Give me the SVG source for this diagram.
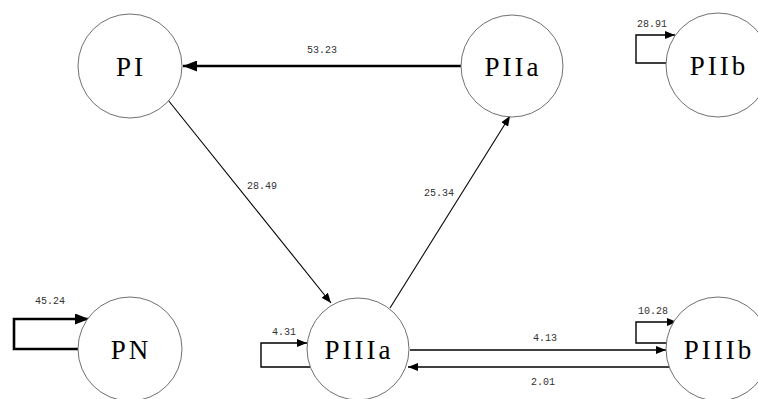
<svg xmlns="http://www.w3.org/2000/svg" width="758" height="399" viewBox="0 0 758 399">
<style>
.node circle{fill:#fff;stroke:#707070;stroke-width:1}
.node text{font-family:"Liberation Serif",serif;font-size:27px;letter-spacing:3px;text-anchor:middle;fill:#000}
.lbl{font-family:"Liberation Mono",monospace;font-size:10px;fill:#333;text-anchor:middle}
.e{fill:none;stroke:#000}
.thin{stroke-width:1.1}
.mid{stroke-width:1.4}
.thick{stroke-width:2.6}
</style>
<defs>
<marker id="aS" markerUnits="userSpaceOnUse" markerWidth="11" markerHeight="8" refX="10" refY="4" orient="auto"><path d="M0,0 L10,4 L0,8 Z" fill="#000"/></marker>
<marker id="aL" markerUnits="userSpaceOnUse" markerWidth="15" markerHeight="11" refX="14" refY="5.5" orient="auto"><path d="M0,0 L14,5.5 L0,11 Z" fill="#000"/></marker>
</defs>
<rect width="758" height="399" fill="#fff"/>
<g id="connectors">
<line class="e thick" x1="461" y1="66" x2="183" y2="66" marker-end="url(#aL)"/>
<text class="lbl" x="322" y="53">53.23</text>
<line class="e thin" x1="168" y1="100" x2="331" y2="303" marker-end="url(#aS)"/>
<text class="lbl" x="262" y="189">28.49</text>
<line class="e thin" x1="390" y1="308" x2="510" y2="116" marker-end="url(#aS)"/>
<text class="lbl" x="439" y="196">25.34</text>
<line class="e mid" x1="410" y1="350" x2="666" y2="350" marker-end="url(#aS)"/>
<text class="lbl" x="545" y="341">4.13</text>
<line class="e mid" x1="669" y1="367" x2="408" y2="367" marker-end="url(#aS)"/>
<text class="lbl" x="543" y="385">2.01</text>
<path class="e thick" d="M79,349 H14 V319 H89" marker-end="url(#aL)"/>
<text class="lbl" x="50" y="304">45.24</text>
<path class="e mid" d="M310,367 H261 V343 H307" marker-end="url(#aS)"/>
<text class="lbl" x="284" y="335">4.31</text>
<path class="e mid" d="M668,343 H636 V322 H677" marker-end="url(#aS)"/>
<text class="lbl" x="653" y="314">10.28</text>
<path class="e mid" d="M666,63 H636 V35 H675" marker-end="url(#aS)"/>
<text class="lbl" x="652" y="27">28.91</text>
</g>
<g id="PI" class="node"><circle cx="130" cy="66" r="52"/><text x="131" y="76">PI</text></g>
<g id="PIIa" class="node"><circle cx="512" cy="66" r="51"/><text x="513" y="76">PIIa</text></g>
<g id="PIIb" class="node"><circle cx="718" cy="65" r="52"/><text x="719" y="75">PIIb</text></g>
<g id="PN" class="node"><circle cx="130" cy="349" r="52"/><text x="131" y="359">PN</text></g>
<g id="PIIIa" class="node"><circle cx="358" cy="349" r="51"/><text x="359" y="359">PIIIa</text></g>
<g id="PIIIb" class="node"><circle cx="718" cy="349" r="52"/><text x="719" y="359">PIIIb</text></g>
</svg>
